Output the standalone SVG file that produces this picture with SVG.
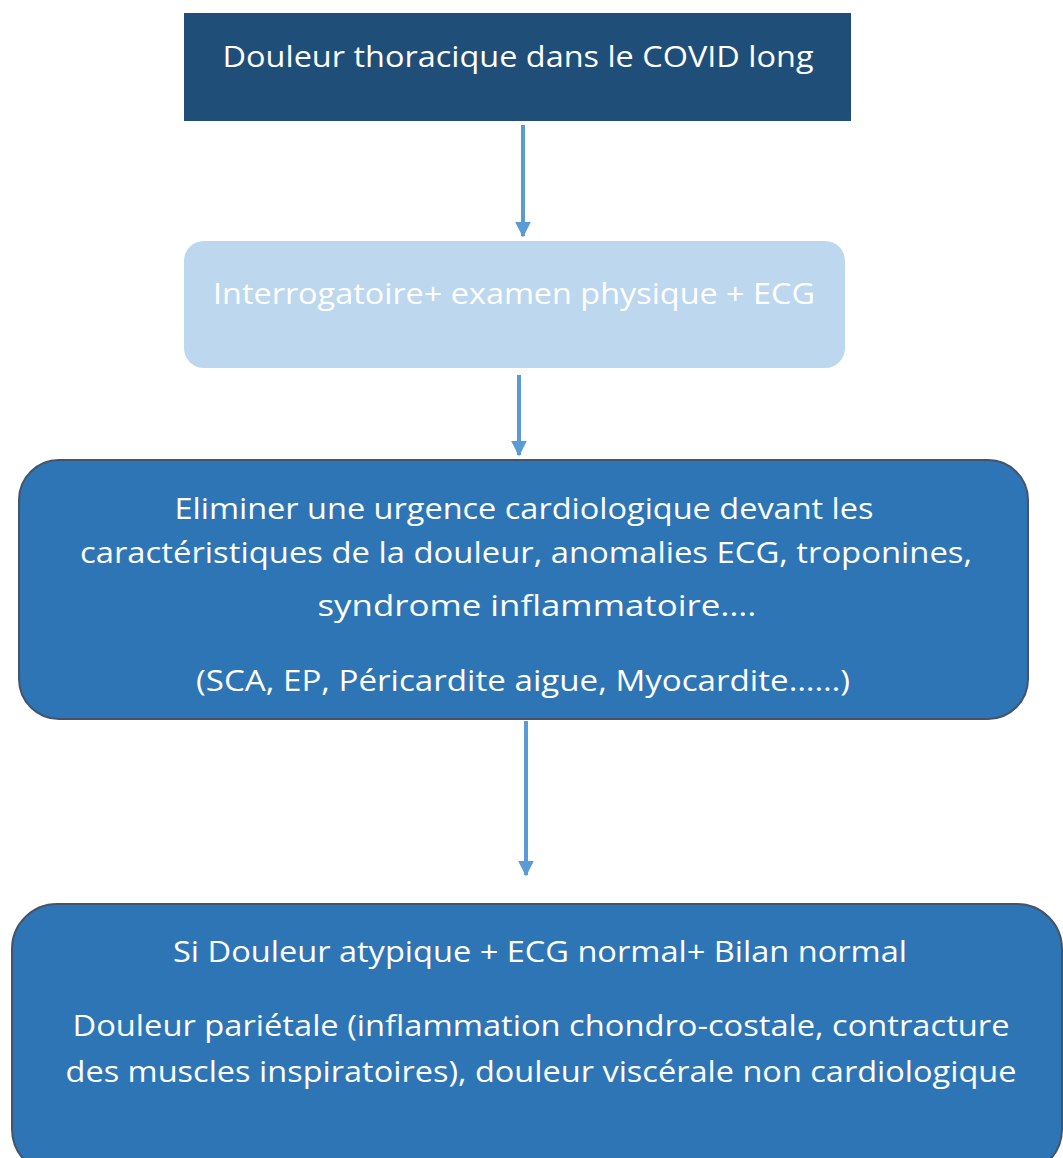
<svg xmlns="http://www.w3.org/2000/svg" width="1063" height="1158" viewBox="0 0 1063 1158">
<defs>
<style>
.t{font-family:"Open Sans","Liberation Sans",sans-serif;font-size:30px;fill:#ffffff;text-anchor:middle}
.c{stroke:#5B9BD5;stroke-width:4;fill:none}
</style>
<marker id="ah" markerWidth="4" markerHeight="4" refX="3.6" refY="2" orient="auto" markerUnits="strokeWidth">
<path d="M0,0 L4,2 L0,4 Z" fill="#5B9BD5"/>
</marker>
</defs>
<rect width="1063" height="1158" fill="#ffffff"/>
<g id="connectors">
<line class="c" x1="523" y1="125" x2="523" y2="236" marker-end="url(#ah)"/>
<line class="c" x1="519" y1="375" x2="519" y2="455" marker-end="url(#ah)"/>
<line class="c" x1="526" y1="721" x2="526" y2="875" marker-end="url(#ah)"/>
</g>
<g id="n1">
<rect x="184" y="13" width="667" height="108" fill="#1F4E79"/>
<text class="t" x="518" y="67" textLength="591" lengthAdjust="spacingAndGlyphs">Douleur thoracique dans le COVID long</text>
</g>
<g id="n2">
<rect x="184" y="241" width="661" height="127" rx="20" fill="#BDD7EE"/>
<text class="t" x="514" y="304" textLength="602" lengthAdjust="spacingAndGlyphs">Interrogatoire+ examen physique + ECG</text>
</g>
<g id="n3">
<rect x="19" y="460" width="1009" height="259" rx="40" fill="#2E75B6" stroke="#44546A" stroke-width="2"/>
<text class="t" x="524" y="519" textLength="699" lengthAdjust="spacingAndGlyphs">Eliminer une urgence cardiologique devant les</text>
<text class="t" x="526" y="563" textLength="892" lengthAdjust="spacingAndGlyphs">caractéristiques de la douleur, anomalies ECG, troponines,</text>
<text class="t" x="537" y="616" textLength="439" lengthAdjust="spacingAndGlyphs">syndrome inflammatoire….</text>
<text class="t" x="523" y="691" textLength="654" lengthAdjust="spacingAndGlyphs">(SCA, EP, Péricardite aigue, Myocardite……)</text>
</g>
<g id="n4">
<rect x="12" y="904" width="1050" height="270" rx="45" fill="#2E75B6" stroke="#44546A" stroke-width="2"/>
<text class="t" x="540" y="962" textLength="734" lengthAdjust="spacingAndGlyphs">Si Douleur atypique + ECG normal+ Bilan normal</text>
<text class="t" x="541" y="1036" textLength="937" lengthAdjust="spacingAndGlyphs">Douleur pariétale (inflammation chondro-costale, contracture</text>
<text class="t" x="541" y="1082" textLength="951" lengthAdjust="spacingAndGlyphs">des muscles inspiratoires), douleur viscérale non cardiologique</text>
</g>
</svg>
